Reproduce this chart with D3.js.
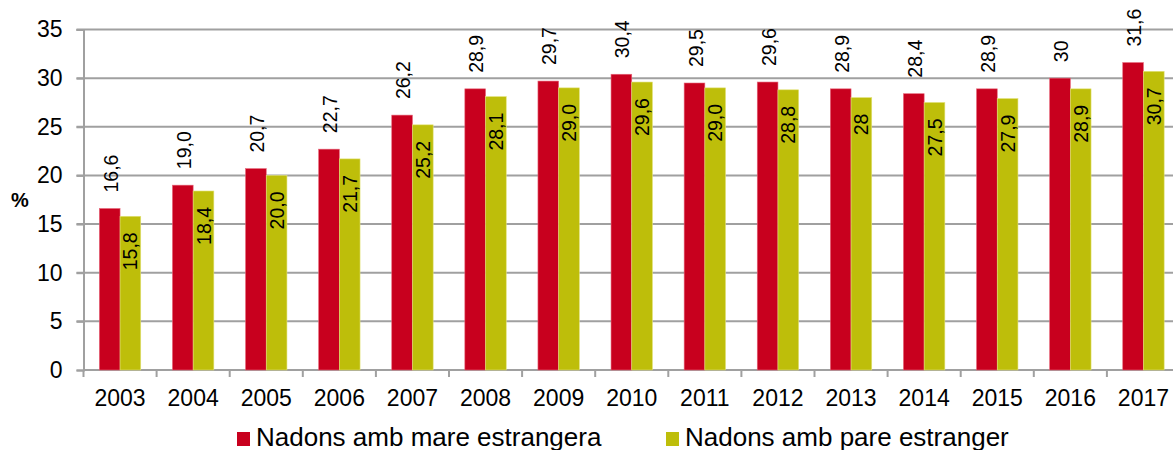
<!DOCTYPE html>
<html>
<head>
<meta charset="utf-8">
<script src="https://cdn.jsdelivr.net/npm/d3@7"></script>
<style>
  body { margin: 0; background: #fff; }
  svg { display: block; font-family: Arial, "Liberation Sans", sans-serif; }
</style>
</head>
<body>
<svg id="chart" width="1173" height="450"></svg>
<script>
let years = ['2003', '2004', '2005', '2006', '2007', '2008', '2009', '2010', '2011', '2012', '2013', '2014', '2015', '2016', '2017']
let mare = [16.6, 19.0, 20.7, 22.7, 26.2, 28.9, 29.7, 30.4, 29.5, 29.6, 28.9, 28.4, 28.9, 30, 31.6]
let pare = [15.8, 18.4, 20.0, 21.7, 25.2, 28.1, 29.0, 29.6, 29.0, 28.8, 28, 27.5, 27.9, 28.9, 30.7]
let mareLabels = ['16,6', '19,0', '20,7', '22,7', '26,2', '28,9', '29,7', '30,4', '29,5', '29,6', '28,9', '28,4', '28,9', '30', '31,6']
let pareLabels = ['15,8', '18,4', '20,0', '21,7', '25,2', '28,1', '29,0', '29,6', '29,0', '28,8', '28', '27,5', '27,9', '28,9', '30,7']
let yTicks = [0, 5, 10, 15, 20, 25, 30, 35]
let seriesNames = ['Nadons amb mare estrangera', 'Nadons amb pare estranger']
let colors = ['#c8001e', '#bebe0a']

let svg = d3.select('#chart'),
    left = 83.5,
    right = 1180,
    x = d3.scaleBand().domain(years).range([left, right]).paddingInner(0).paddingOuter(0),
    y = d3.scaleLinear().domain([0, 35]).range([370, 29.5]),
    barW = 20.7,
    gridColor = '#a0a0a0'

// gridlines
svg.append('g').selectAll('line')
    .data(yTicks.filter(t => t > 0))
    .join('line')
    .attr('x1', left - 7).attr('x2', 1173)
    .attr('y1', d => y(d)).attr('y2', d => y(d))
    .attr('stroke', gridColor).attr('stroke-width', 2)

// y axis
let yAxis = svg.append('g')
    .attr('transform', `translate(${left},0)`)
    .call(d3.axisLeft(y).tickValues(yTicks).tickSize(7).tickPadding(14).tickFormat(d3.format('d')))
yAxis.select('.domain').attr('stroke', gridColor).attr('stroke-width', 2)
yAxis.selectAll('.tick line').attr('stroke', gridColor).attr('stroke-width', 2)
yAxis.selectAll('.tick text').attr('font-size', 23).attr('fill', '#000')

// x axis
let xAxis = svg.append('g')
    .attr('transform', 'translate(0,370)')
    .call(d3.axisBottom(x).tickSize(0).tickPadding(20))
xAxis.select('.domain').attr('stroke', gridColor).attr('stroke-width', 2)
    .attr('d', `M${left},0H1173`)
xAxis.selectAll('.tick text').attr('font-size', 23).attr('fill', '#000')
xAxis.append('g').selectAll('line')
    .data(years)
    .join('line')
    .attr('x1', d => x(d)).attr('x2', d => x(d))
    .attr('y1', 0).attr('y2', 7)
    .attr('stroke', gridColor).attr('stroke-width', 2)

let offset = (x.bandwidth() - 2 * barW) / 2

// bars
let series = [mare, pare]
series.forEach((vals, s) => {
    svg.append('g').selectAll('rect')
        .data(vals)
        .join('rect')
        .attr('x', (d, i) => x(years[i]) + offset + s * barW)
        .attr('y', d => y(d))
        .attr('width', barW)
        .attr('height', d => y(0) - y(d))
        .attr('fill', colors[s])
        .attr('stroke', s === 0 ? '#e6667a' : '#e2e27a')
        .attr('stroke-width', 0.6)
})

// labels: red above bar, green inside top
svg.append('g').selectAll('text')
    .data(mare)
    .join('text')
    .attr('transform', (d, i) => `translate(${x(years[i]) + offset + barW / 2 + 8},${y(d) - 16}) rotate(-90)`)
    .attr('font-size', 19.5)
    .attr('text-anchor', 'start')
    .text((d, i) => mareLabels[i])

svg.append('g').selectAll('text')
    .data(pare)
    .join('text')
    .attr('transform', (d, i) => `translate(${x(years[i]) + offset + barW * 1.5 + 7},${y(d) + 16}) rotate(-90)`)
    .attr('font-size', 19.5)
    .attr('text-anchor', 'end')
    .text((d, i) => pareLabels[i])

// % label
svg.append('text')
    .attr('x', 20).attr('y', 207)
    .attr('text-anchor', 'middle')
    .attr('font-size', 20).attr('font-weight', 'bold')
    .text('%')

// legend
let legendX = [237, 666]
seriesNames.forEach((n, i) => {
    svg.append('rect')
        .attr('x', legendX[i]).attr('y', 432)
        .attr('width', 13).attr('height', 14)
        .attr('fill', colors[i])
    svg.append('text')
        .attr('x', legendX[i] + 19).attr('y', 446)
        .attr('font-size', 26)
        .text(n)
})
</script>
</body>
</html>
